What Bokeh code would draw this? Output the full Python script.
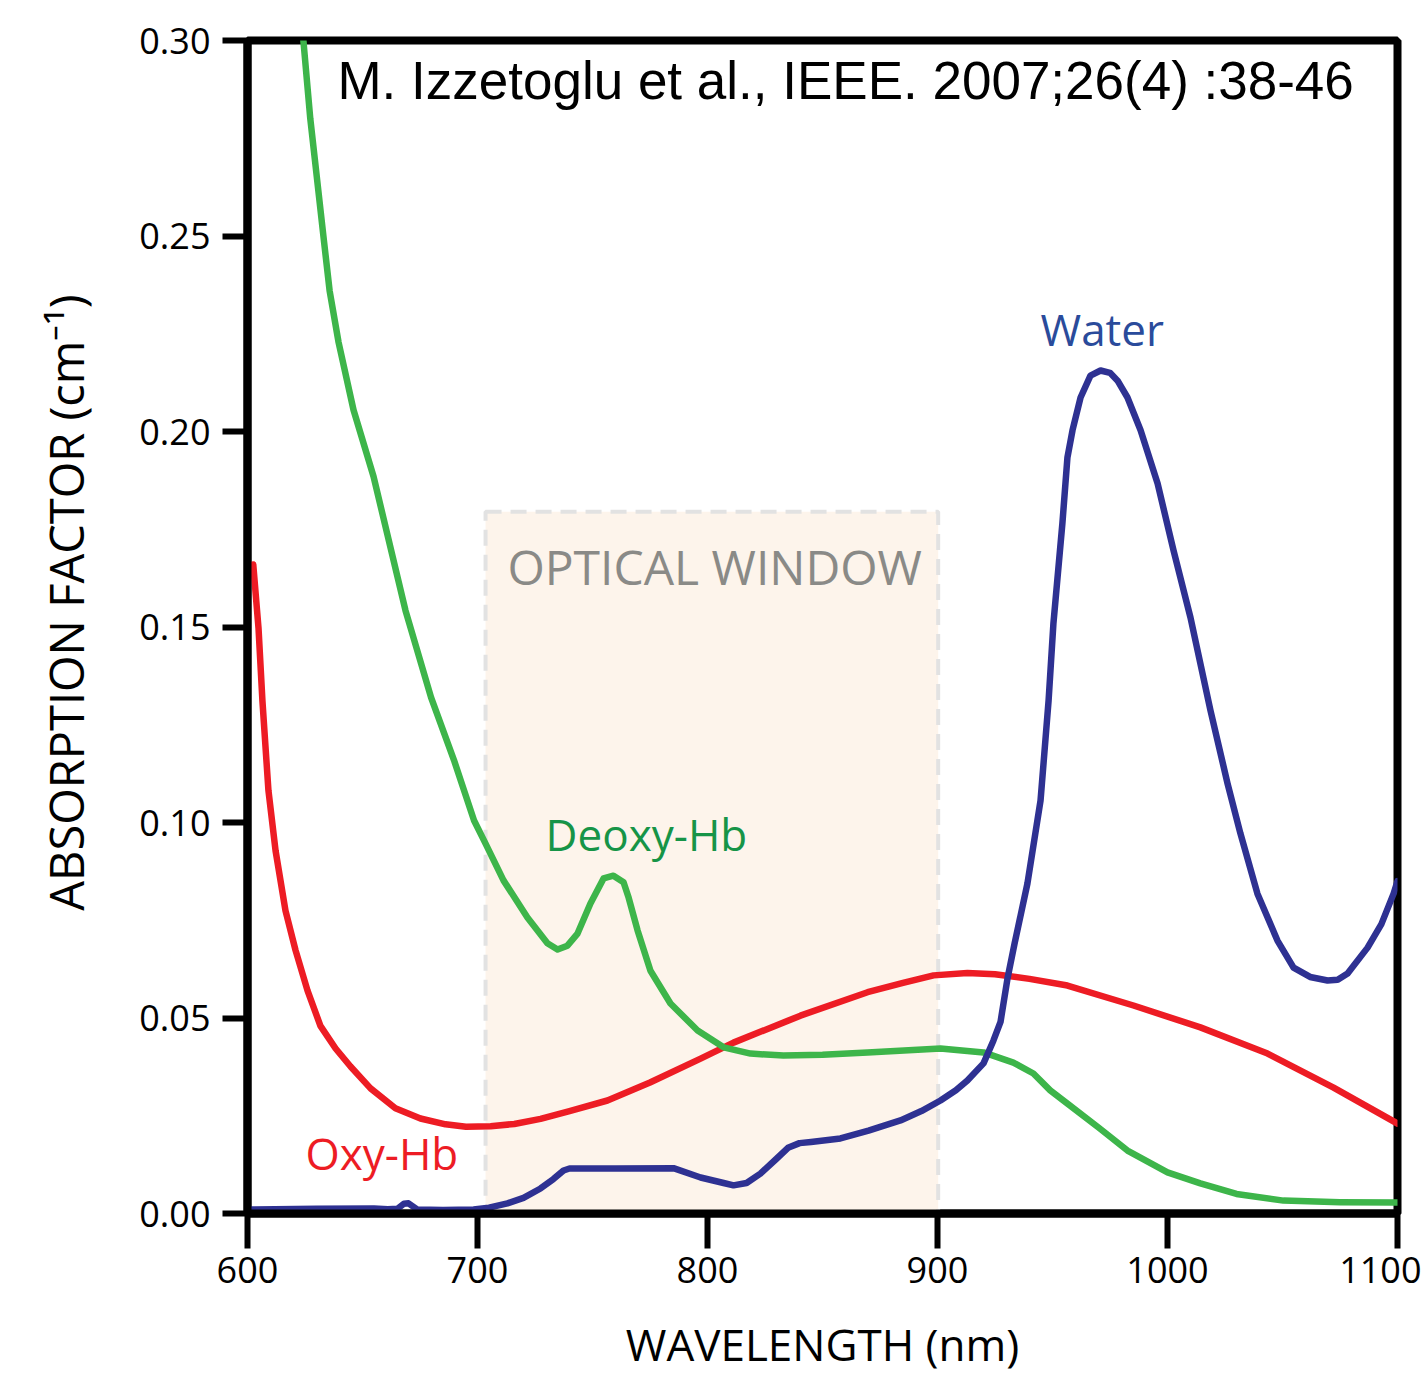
from bokeh.plotting import figure
from bokeh.models import Range1d, FixedTicker, Label
from bokeh.embed import file_html
from bokeh.resources import INLINE

# ---------------- data ----------------
x_ticks = [600, 700, 800, 900, 1000, 1100]
y_ticks = [0.0, 0.05, 0.10, 0.15, 0.20, 0.25, 0.30]
y_tick_labels = ["0.00", "0.05", "0.10", "0.15", "0.20", "0.25", "0.30"]

deoxy_x = [623.5, 624.3, 627.3, 633, 635.7, 639.6, 646.1, 654.8, 668.7, 679.8, 689.8, 698.5, 703.5, 711.3, 721.7, 730.4, 734.8,
           739.1, 743.5, 749.1, 754.8, 759.1, 763.5, 765.7, 769.6, 775.2, 783.9, 795.7, 807, 818.7, 833,
           850, 869.6, 901.3, 920, 933, 941.7, 949, 956.5, 970, 982.6, 1000, 1014.3, 1030, 1050.4, 1075, 1100]
deoxy_y = [0.305, 0.300, 0.280, 0.250, 0.236, 0.2228, 0.2055, 0.1885, 0.1542, 0.1320, 0.1159, 0.1005, 0.0946, 0.0852, 0.0757, 0.0691, 0.0675,
           0.0685, 0.0716, 0.0793, 0.0857, 0.0864, 0.0847, 0.0808, 0.0724, 0.0621, 0.0537, 0.0468, 0.0425, 0.0409, 0.0404,
           0.0406, 0.0412, 0.0422, 0.0412, 0.0386, 0.0358, 0.0315, 0.0281, 0.0220, 0.0161, 0.0105, 0.0077, 0.0050, 0.0033, 0.0029, 0.0028]

oxy_x = [602.5, 604.8, 606.5, 609.1, 612.2, 616.5, 620.9, 626.1, 631.7, 638.3, 644.8, 653.5, 664.3, 675.2, 686.1, 695,
         705.7, 716, 727.4, 740, 756.5, 775, 797, 811.3, 840.4, 869.6, 885, 898.3, 913, 925, 940, 956.5, 985.2,
         1014.3, 1043.5, 1072.2, 1100]
oxy_y = [0.166, 0.1496, 0.131, 0.1082, 0.0928, 0.0775, 0.0673, 0.0570, 0.048, 0.0422, 0.0376, 0.0320, 0.0269, 0.0243, 0.0228, 0.0222,
         0.0223, 0.0229, 0.0242, 0.0262, 0.0289, 0.0335, 0.0396, 0.0437, 0.0506, 0.0566, 0.0590, 0.0609, 0.0615, 0.0612, 0.0600,
         0.0583, 0.0532, 0.0476, 0.0409, 0.0322, 0.0230]

water_x = [600, 630, 655, 661, 665.2, 668, 670, 673.9, 685, 698.3, 705, 713, 720, 727.4, 733, 737.4, 740, 760,
           785.2, 797, 807, 811.3, 817, 823, 830, 835, 840, 845, 857.8, 870, 883.9, 893, 901.3, 908, 913, 920,
           924.3, 927.4, 930.4, 933.5, 939.1, 944.8, 948.3, 950.4, 954.3, 956.5, 958.7, 962.2, 966.5, 970.9, 975,
           978.3, 982.6, 988.3, 995.7, 1002.6, 1010, 1018.7, 1026.1, 1031.7, 1039.1, 1047.8, 1054.8, 1062, 1069.6,
           1074, 1078.3, 1087, 1093, 1098.3, 1100]
water_y = [0.0010, 0.0012, 0.0013, 0.0011, 0.0012, 0.0025, 0.0026, 0.0010, 0.0009, 0.0010, 0.0015, 0.0026, 0.0040, 0.0064,
           0.0088, 0.0110, 0.0115, 0.0115, 0.0116, 0.0092, 0.0078, 0.0072, 0.0078, 0.0102, 0.0140, 0.0168, 0.0180, 0.0183,
           0.0192, 0.0212, 0.0238, 0.0262, 0.0289, 0.0315, 0.0340, 0.0384, 0.0442, 0.0490, 0.0600, 0.0690, 0.0844, 0.1056,
           0.1312, 0.1509, 0.1765, 0.1934, 0.2003, 0.2087, 0.2143, 0.2156, 0.2150, 0.2130, 0.2087, 0.2003, 0.1867, 0.1696,
           0.1524, 0.1286, 0.1100, 0.0972, 0.0818, 0.0698, 0.0629, 0.0605, 0.0596, 0.0598, 0.0614, 0.0680, 0.0740,
           0.0818, 0.0850]

window_left = [703.5]
window_right = [900.3]
window_top = [0.1795]
window_bottom = [0.0]

# ---------------- figure ----------------
p = figure(width=1421, height=1378, output_backend="svg", toolbar_location=None,
           x_range=Range1d(600, 1100), y_range=Range1d(0, 0.30),
           min_border_left=247, min_border_top=40, min_border_right=24, min_border_bottom=165)
p.background_fill_color = "white"
p.border_fill_color = "white"
p.xgrid.visible = False
p.ygrid.visible = False
p.outline_line_color = "black"
p.outline_line_width = 8

ui_font = "Open Sans"

p.xaxis.ticker = FixedTicker(ticks=x_ticks)
p.yaxis.ticker = FixedTicker(ticks=y_ticks)
p.yaxis.major_label_overrides = {t: l for t, l in zip(y_ticks, y_tick_labels)}
for ax in (p.xaxis, p.yaxis):
    ax.axis_line_width = 8
    ax.axis_line_color = "black"
    ax.major_tick_line_width = 6
    ax.major_tick_line_color = "black"
    ax.major_tick_in = 0
    ax.minor_tick_line_color = None
    ax.major_label_text_font = ui_font
    ax.major_label_text_font_size = "36px"
    ax.major_label_text_color = "black"
    ax.axis_label_text_font = ui_font
    ax.axis_label_text_font_style = "normal"
    ax.axis_label_text_color = "black"
p.xaxis.major_tick_out = 35
p.yaxis.major_tick_out = 25
p.xaxis.major_label_standoff = 8
p.yaxis.major_label_standoff = 12
p.xaxis.axis_label = "WAVELENGTH (nm)"
p.yaxis.axis_label = "\u00a0\u00a0\u00a0\u00a0ABSORPTION FACTOR (cm\u207b\u00b9)"
p.xaxis.axis_label_text_font_size = "44px"
p.yaxis.axis_label_text_font_size = "47px"
p.xaxis.axis_label_standoff = 28
p.yaxis.axis_label_standoff = 38

# optical window
p.quad(left=window_left, right=window_right, top=window_top, bottom=window_bottom,
       fill_color="#FDF4EB", line_color="#E2E2E2", line_width=4, line_dash="16 9")

# curves
lw = 6.5
p.line(oxy_x, oxy_y, line_color="#ED1C24", line_width=lw, line_join="round", line_cap="round")
p.line(deoxy_x, deoxy_y, line_color="#3DB54A", line_width=lw, line_join="round", line_cap="round")
p.line(water_x, water_y, line_color="#2E3192", line_width=lw, line_join="round", line_cap="round")

# texts
p.add_layout(Label(x=639.1, y=0.2897, text="M. Izzetoglu et al., IEEE. 2007;26(4) :38-46",
                   text_font="Liberation Sans", text_font_size="53px", text_color="black",
                   text_align="left", text_baseline="alphabetic"))
p.add_layout(Label(x=944.8, y=0.2262, text="Water", text_font=ui_font, text_font_size="44px",
                   text_color="#2A4B9B", text_align="left", text_baseline="alphabetic"))
p.add_layout(Label(x=729.6, y=0.0970, text="Deoxy-Hb", text_font=ui_font, text_font_size="44px",
                   text_color="#169447", text_align="left", text_baseline="alphabetic"))
p.add_layout(Label(x=625.2, y=0.0155, text="Oxy-Hb", text_font=ui_font, text_font_size="44px",
                   text_color="#ED1C24", text_align="left", text_baseline="alphabetic"))
p.add_layout(Label(x=713.0, y=0.1656, text="OPTICAL WINDOW", text_font=ui_font, text_font_size="48px",
                   text_color="#8A8A87", text_align="left", text_baseline="alphabetic"))

open("out.html", "w").write(file_html(p, INLINE))
